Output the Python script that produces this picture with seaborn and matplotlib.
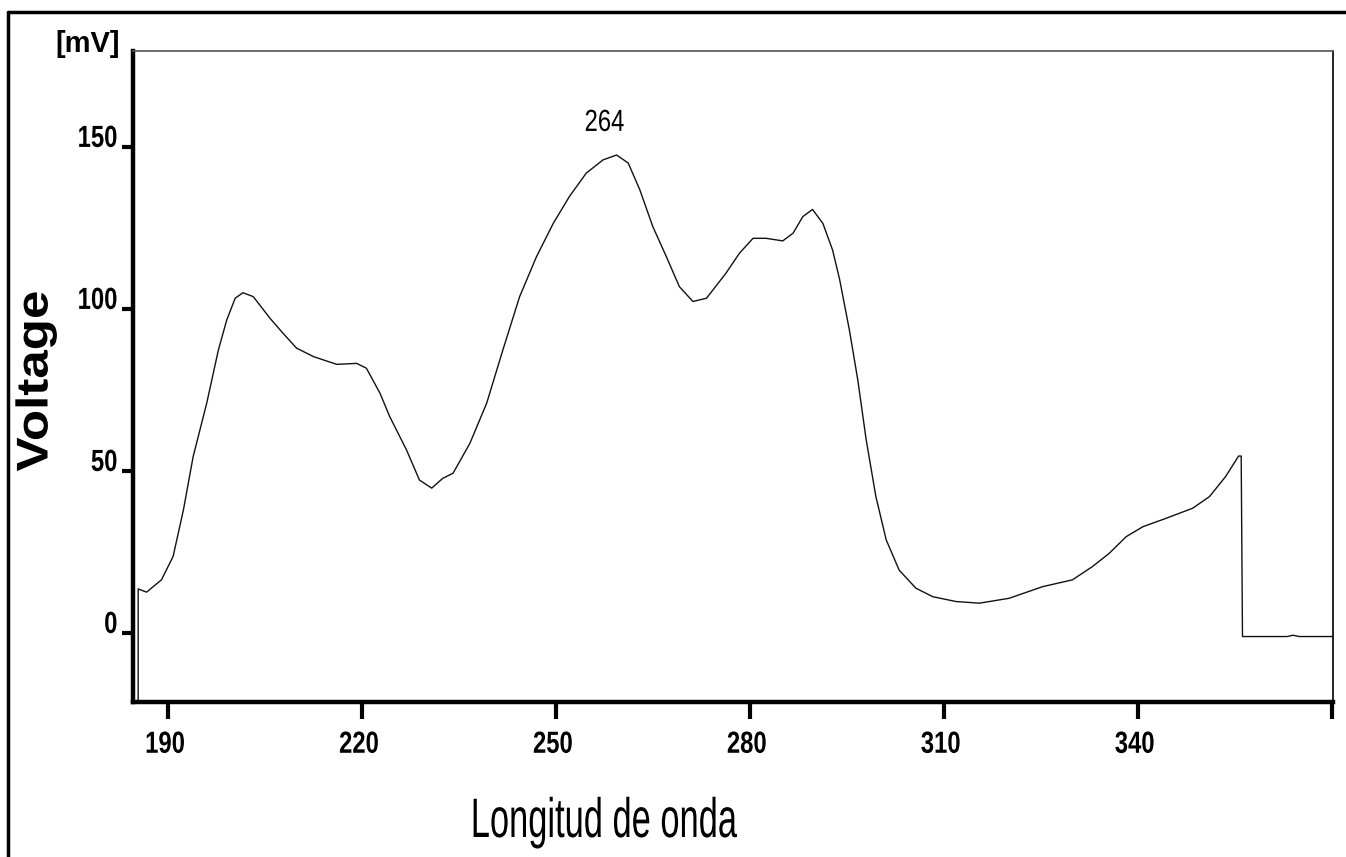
import matplotlib
matplotlib.use("Agg")
import matplotlib.pyplot as plt
from matplotlib.lines import Line2D
from matplotlib.patheffects import AbstractPathEffect
from matplotlib.transforms import Affine2D
import seaborn as sns
import pandas as pd

# ---- data ----
wavelength = [185.4, 185.4, 186.7, 189.0, 190.8, 192.4, 193.9, 196.0, 197.8, 199.1,
              200.4, 201.6, 203.2, 205.8, 207.8, 209.9, 212.5, 216.1, 219.2, 220.7,
              222.8, 224.3, 226.9, 228.9, 230.8, 232.5, 234.1, 236.7, 239.3, 241.8,
              244.4, 247.0, 249.6, 252.1, 254.7, 257.3, 259.4, 261.2, 263.0, 265.0,
              267.1, 269.1, 271.2, 273.3, 276.3, 278.4, 280.5, 282.5, 285.1, 286.7,
              288.2, 289.7, 291.3, 292.8, 293.9, 295.4, 296.7, 298.0, 299.5, 301.1,
              303.1, 305.7, 308.3, 311.9, 315.5, 320.1, 325.3, 329.9, 333.0, 335.6,
              338.2, 340.8, 344.4, 348.5, 351.1, 353.6, 355.6, 356.0, 356.2, 363.1,
              364.0, 365.0, 370.2]
voltage = [-21.0, 13.6, 12.6, 16.4, 23.6, 38.0, 54.4, 70.9, 87.3, 96.6,
           103.3, 105.0, 103.8, 97.1, 92.5, 87.9, 85.3, 82.9, 83.2, 81.7,
           74.0, 66.8, 56.5, 47.2, 44.7, 47.7, 49.3, 58.5, 70.9, 87.3,
           103.8, 116.1, 126.4, 134.7, 141.9, 146.0, 147.5, 145.0, 136.7, 125.4,
           116.1, 106.9, 102.3, 103.3, 111.0, 117.2, 121.8, 121.8, 121.0, 123.4,
           128.5, 130.7, 126.4, 118.2, 109.0, 93.5, 78.1, 59.6, 42.1, 28.7,
           19.4, 13.8, 11.2, 9.7, 9.2, 10.7, 14.3, 16.4, 20.5, 24.6,
           29.7, 32.8, 35.4, 38.5, 42.1, 48.3, 54.6, 54.6, -1.1, -1.1,
           -0.7, -1.1, -1.1]
x_ticks = [190, 220, 250, 280, 310, 340, 370]
x_tick_labels = ["190", "220", "250", "280", "310", "340", ""]
y_ticks = [0, 50, 100, 150]
y_tick_labels = ["0", "50", "100", "150"]
peak_label = "264"
peak_label_pos = (257.5, 157.4)

df = pd.DataFrame({"wavelength": wavelength, "voltage": voltage})


class Squeeze(AbstractPathEffect):
    """Draw text glyphs condensed/stretched about a pivot (narrow-font look)."""

    def __init__(self, sx=1.0, sy=1.0, ha="center", dx=0.0):
        super().__init__()
        self.sx, self.sy, self.ha, self.dx = sx, sy, ha, dx

    def draw_path(self, renderer, gc, tpath, affine, rgbFace=None):
        ext = tpath.get_extents(affine)
        px = {"center": 0.5 * (ext.x0 + ext.x1), "right": ext.x1, "left": ext.x0}[self.ha]
        py = 0.5 * (ext.y0 + ext.y1)
        t = affine + Affine2D().translate(-px, -py).scale(self.sx, self.sy).translate(px + self.dx, py)
        renderer.draw_path(gc, tpath, t, rgbFace)


sns.set_theme(style="white")
plt.rcParams["font.family"] = ["Liberation Sans", "DejaVu Sans"]
plt.rcParams["text.color"] = "black"

W, H = 1346, 857
fig = plt.figure(figsize=(W / 100, H / 100), dpi=100)
fig.patch.set_facecolor("white")
ax = fig.add_axes([133 / W, 1 - 702 / H, (1333 - 133) / W, (702 - 51) / H])
ax.set_facecolor("white")

sns.lineplot(data=df, x="wavelength", y="voltage", ax=ax, color="#111111",
             linewidth=1.0, estimator=None, sort=False)
for ln in ax.get_lines():
    ln.set_solid_joinstyle("round")

ax.set_xlim(184.6, 370.2)
ax.set_ylim(-21.3, 179.6)
ax.set_xlabel("")
ax.set_ylabel("")

ax.set_xticks(x_ticks)
ax.set_xticklabels(x_tick_labels, fontsize=22, fontweight="bold", color="black")
ax.set_yticks(y_ticks)
ax.set_yticklabels(y_tick_labels, fontsize=22, fontweight="bold", color="black")
for lab in ax.get_xticklabels():
    lab.set_path_effects([Squeeze(sx=0.78, ha="center", dx=-3)])
for lab in ax.get_yticklabels():
    lab.set_verticalalignment("baseline")
    lab.set_path_effects([Squeeze(sx=0.78, ha="right")])

ax.tick_params(axis="x", which="major", direction="out", length=12, width=3,
               color="black", pad=8, bottom=True)
ax.tick_params(axis="y", which="major", direction="out", length=8, width=3,
               color="black", pad=3, left=True)

for side in ["left", "bottom"]:
    ax.spines[side].set_linewidth(3.2)
    ax.spines[side].set_color("black")
ax.spines["top"].set_linewidth(1.2)
ax.spines["top"].set_color("#555555")
ax.spines["right"].set_linewidth(1.2)
ax.spines["right"].set_color("black")

ax.text(peak_label_pos[0], peak_label_pos[1], peak_label, ha="center", va="center",
        fontsize=22, color="black", path_effects=[Squeeze(sx=0.78)])

# axis titles
fig.text(88 / W, 1 - 44 / H, "[mV]", ha="center", va="center", fontsize=21,
         fontweight="bold", color="black")
fig.text(36 / W, 1 - 381 / H, "Voltage", ha="center", va="center", rotation=90,
         fontsize=32, fontweight="bold", color="black",
         path_effects=[Squeeze(sy=1.15)])
fig.text(603 / W, 1 - 837 / H, "Longitud de onda", ha="center", va="baseline",
         fontsize=40, color="black", path_effects=[Squeeze(sx=0.62)])

# outer frame (top and left edges)
fig.add_artist(Line2D([8 / W, 1.0], [1 - 12 / H, 1 - 12 / H], transform=fig.transFigure,
                      color="black", linewidth=2.5))
fig.add_artist(Line2D([8 / W, 8 / W], [0.0, 1 - 12 / H], transform=fig.transFigure,
                      color="black", linewidth=2.5))

fig.savefig("out.png", dpi=100, facecolor="white")
